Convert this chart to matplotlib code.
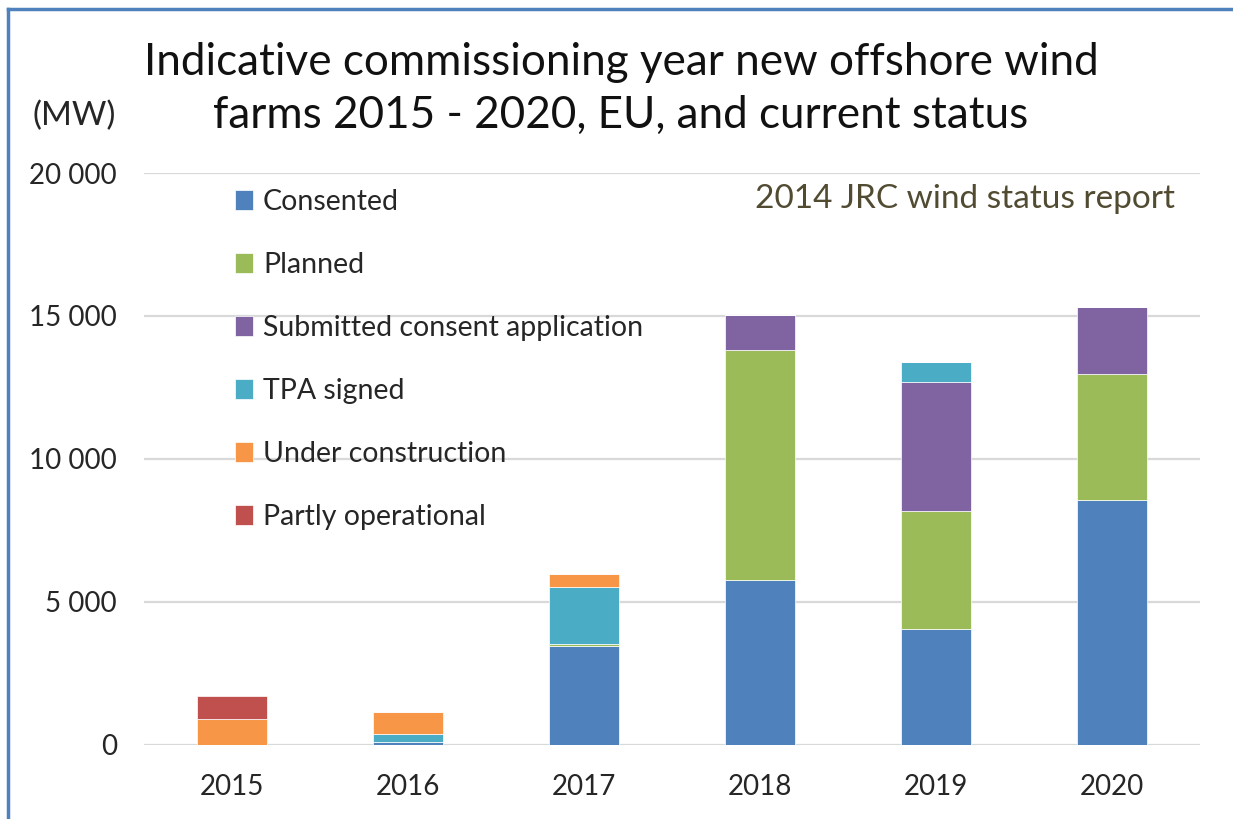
import numpy as np
import matplotlib
matplotlib.use("Agg")
import matplotlib.pyplot as plt
from matplotlib.lines import Line2D

plt.rcParams['font.family'] = ['Lato', 'DejaVu Sans']

# data (MW)
years = ['2015', '2016', '2017', '2018', '2019', '2020']
consented = [0, 70, 3455, 5740, 4040, 8550]
planned = [0, 0, 60, 8080, 4115, 4415]
submitted = [0, 0, 0, 1210, 4520, 2355]
tpa_signed = [0, 300, 2000, 0, 700, 0]
under_construction = [880, 780, 455, 0, 0, 0]
partly_operational = [805, 0, 0, 0, 0, 0]

series = [
    ('Consented', consented, '#4F81BD'),
    ('Planned', planned, '#9BBB59'),
    ('Submitted consent application', submitted, '#8064A2'),
    ('TPA signed', tpa_signed, '#4BACC6'),
    ('Under construction', under_construction, '#F79646'),
    ('Partly operational', partly_operational, '#C0504D'),
]

W, H = 1233, 819
fig = plt.figure(figsize=(W / 100, H / 100), dpi=100)
ax = fig.add_axes([144 / W, 74.5 / H, (1200 - 144) / W, (646 - 74.5) / H])

x = np.arange(len(years))
bottom = np.zeros(len(years))
handles = []
for name, vals, col in series:
    vals = np.array(vals, dtype=float)
    b = ax.bar(x, vals, width=0.4, bottom=bottom, color=col, edgecolor='white',
               linewidth=0.5, label=name, zorder=3)
    handles.append(b)
    bottom += vals

ax.set_xlim(-0.5, len(years) - 0.5)
ax.set_ylim(0, 20000)
ax.set_yticks([0, 5000, 10000, 15000, 20000])
ax.set_yticklabels(['0', '5 000', '10 000', '15 000', '20 000'])
ax.set_xticks(x)
ax.set_xticklabels(years)
ax.tick_params(axis='both', length=0, labelsize=20, labelcolor='#262626')
ax.tick_params(axis='y', pad=19.5)
ax.tick_params(axis='x', pad=21)
ax.grid(axis='y', color='#d9d9d9', linewidth=1.6, zorder=0)
for s in ax.spines.values():
    s.set_visible(False)

leg = ax.legend(handles=handles, loc='upper left', bbox_to_anchor=(235 / W, 1 - 189 / H),
                bbox_transform=fig.transFigure, frameon=False, fontsize=20.5,
                handlelength=0.62, handleheight=0.66, handletextpad=0.36,
                labelspacing=1.3, borderaxespad=0, borderpad=0)
for t in leg.get_texts():
    t.set_color('#262626')

fig.text(621 / W, 1 - 42 / H, 'Indicative commissioning year new offshore wind\n'
         'farms 2015 - 2020, EU, and current status',
         ha='center', va='top', fontsize=31.7, linespacing=1.36, color='#111111')
fig.text(32 / W, 1 - 125 / H, '(MW)', ha='left', va='baseline', fontsize=24, color='#262626')
fig.text(1175 / W, 1 - 208 / H, '2014 JRC wind status report', ha='right', va='baseline',
         fontsize=24, color='#514b32')

# blue frame round the chart area (only top and left edge visible)
fig.lines.append(Line2D([8 / W, 8 / W], [0, 1 - 9 / H], transform=fig.transFigure,
                        color='#4F81BD', linewidth=2.5))
fig.lines.append(Line2D([8 / W, 1], [1 - 9 / H, 1 - 9 / H], transform=fig.transFigure,
                        color='#4F81BD', linewidth=2.5))

fig.savefig('out.png', dpi=100)
